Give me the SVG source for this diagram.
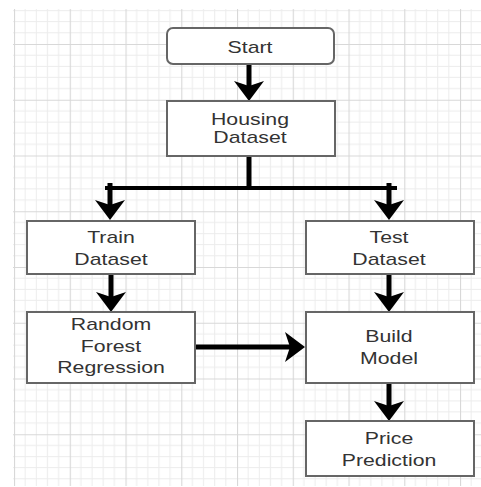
<svg xmlns="http://www.w3.org/2000/svg" width="481" height="487" viewBox="0 0 481 487">
  <defs>
    <style>
      .box { fill: #ffffff; stroke: #666666; stroke-width: 2; }
      .t { font-family: "Liberation Sans", Arial, sans-serif; font-size: 16px; fill: #333333; text-anchor: middle; }
      .c { fill: none; stroke: #000000; stroke-width: 5; }
    </style>
    <pattern id="grid" patternUnits="userSpaceOnUse" x="14" y="-11.75" width="55.75" height="55.75">
      <g stroke="#ececec" stroke-width="1" fill="none">
        <path d="M11.15,0 V55.75 M22.3,0 V55.75 M33.45,0 V55.75 M44.6,0 V55.75"/>
        <path d="M0,11.15 H55.75 M0,22.3 H55.75 M0,33.45 H55.75 M0,44.6 H55.75"/>
      </g>
      <path d="M0.5,0 V55.75 M0,0.5 H55.75" stroke="#d8d8d8" stroke-width="1.2" fill="none"/>
    </pattern>
    <marker id="arr" markerUnits="userSpaceOnUse" markerWidth="20" markerHeight="30" viewBox="0 0 20 30" refX="8" refY="15" orient="auto">
      <path d="M0,0 L20,15 L0,30 L5,15 Z" fill="#000000"/>
    </marker>
  </defs>

  <rect x="0" y="0" width="481" height="487" fill="#ffffff"/>
  <rect x="13" y="9" width="468" height="477" fill="url(#grid)"/>

  <g id="connectors">
    <path class="c" d="M249,64 V89" marker-end="url(#arr)"/>
    <path class="c" d="M249,156 V188"/>
    <path class="c" d="M105,188 H397" style="stroke-width:4"/>
    <path class="c" d="M110,183 V208" marker-end="url(#arr)"/>
    <path class="c" d="M389,183 V208" marker-end="url(#arr)"/>
    <path class="c" d="M111,274 V300" marker-end="url(#arr)"/>
    <path class="c" d="M389,274 V300" marker-end="url(#arr)"/>
    <path class="c" d="M195,347 H293" marker-end="url(#arr)"/>
    <path class="c" d="M389,383 V409" marker-end="url(#arr)"/>
  </g>

  <g id="start">
    <rect class="box" x="167" y="28" width="167" height="36" rx="6"/>
    <text class="t" transform="translate(250,52.5) scale(1.33,1)">Start</text>
  </g>
  <g id="housing">
    <rect class="box" x="167" y="101" width="168" height="55"/>
    <text class="t" transform="translate(250,125) scale(1.33,1)">Housing</text>
    <text class="t" transform="translate(250,143) scale(1.33,1)">Dataset</text>
  </g>
  <g id="train">
    <rect class="box" x="27" y="221" width="168" height="53"/>
    <text class="t" transform="translate(111,243) scale(1.33,1)">Train</text>
    <text class="t" transform="translate(111,265) scale(1.33,1)">Dataset</text>
  </g>
  <g id="test">
    <rect class="box" x="306" y="221" width="168" height="53"/>
    <text class="t" transform="translate(389,243) scale(1.33,1)">Test</text>
    <text class="t" transform="translate(389,265) scale(1.33,1)">Dataset</text>
  </g>
  <g id="random-forest">
    <rect class="box" x="27" y="312" width="168" height="71"/>
    <text class="t" transform="translate(111,330) scale(1.33,1)">Random</text>
    <text class="t" transform="translate(111,352) scale(1.33,1)">Forest</text>
    <text class="t" transform="translate(111,373) scale(1.33,1)">Regression</text>
  </g>
  <g id="build-model">
    <rect class="box" x="306" y="312" width="168" height="71"/>
    <text class="t" transform="translate(389,342) scale(1.33,1)">Build</text>
    <text class="t" transform="translate(389,364) scale(1.33,1)">Model</text>
  </g>
  <g id="price-prediction">
    <rect class="box" x="306" y="421" width="168" height="55"/>
    <text class="t" transform="translate(389,444) scale(1.33,1)">Price</text>
    <text class="t" transform="translate(389,466) scale(1.33,1)">Prediction</text>
  </g>
</svg>
